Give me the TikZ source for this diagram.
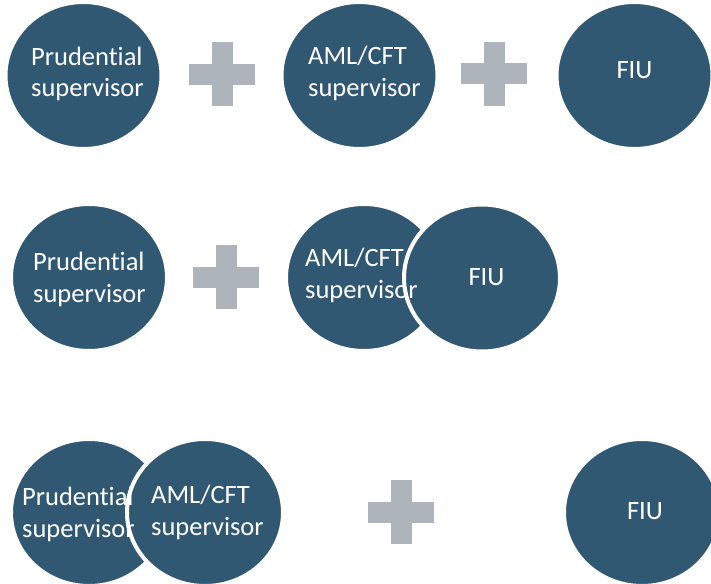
\documentclass[tikz,border=0pt]{standalone}
\usepackage{fontspec}
\setmainfont{Carlito}[Ligatures={NoCommon}]
\usetikzlibrary{shapes.geometric}
\definecolor{circblue}{HTML}{305873}
\definecolor{plusgray}{HTML}{ADB4BC}
\begin{document}
\begin{tikzpicture}[x=1pt,y=-1pt,
  circ/.style={ellipse, fill=circblue, draw=white, line width=4pt,
    minimum width=156pt, minimum height=147pt, inner sep=0pt},
  lbl/.style={text=white, font=\fontsize{26.5}{31.5}\selectfont,
    align=left, inner sep=0pt},
  plussign/.pic={
    \fill[plusgray] (-33,-10.5) rectangle (33,10.5);
    \fill[plusgray] (-10.5,-32) rectangle (10.5,32);
  }]
\useasboundingbox (0,0) rectangle (711,583);
% row 1
\node[circ] (p1) at (83.5,75.5) {};
\node[circ] (a1) at (359.5,75.5) {};
\node[circ] (f1) at (634.5,75.5) {};
\pic (plusA) at (222,74.5) {plussign};
\pic (plusB) at (494,74) {plussign};
% row 2
\node[circ] (p2) at (89,277.5) {};
\node[circ] (a2) at (364,277.5) {};
\node[circ] (f2) at (482,278) {};
\pic (plusC) at (226,277) {plussign};
% row 3
\node[circ] (p3) at (89,512.5) {};
\node[circ] (a3) at (205,512.5) {};
\node[circ] (f3) at (642,512.5) {};
\pic (plusD) at (401,512) {plussign};
% labels
\node[lbl, anchor=base west] (tp1) at ([shift={(-52.5,21.5)}]p1.center) {Prudential\\supervisor};
\node[lbl, anchor=base west] (ta1) at ([shift={(-51.5,20.5)}]a1.center) {AML/CFT\\supervisor};
\node[lbl, anchor=base] (tf1) at ([shift={(0,3.5)}]f1.center) {FIU};
\node[lbl, anchor=base west] (tp2) at ([shift={(-56,24.5)}]p2.center) {Prudential\\supervisor};
\node[lbl, anchor=base west] (ta2) at ([shift={(-59,20.5)}]a2.center) {AML/CFT\\supervisor};
\node[lbl, anchor=base] (tf2) at ([shift={(4.5,7)}]f2.center) {FIU};
\node[lbl, anchor=base west] (tp3) at ([shift={(-67,24.5)}]p3.center) {Prudential\\supervisor};
\node[lbl, anchor=base west] (ta3) at ([shift={(-54,22.5)}]a3.center) {AML/CFT\\supervisor};
\node[lbl, anchor=base] (tf3) at ([shift={(3,6.5)}]f3.center) {FIU};
\end{tikzpicture}
\end{document}
